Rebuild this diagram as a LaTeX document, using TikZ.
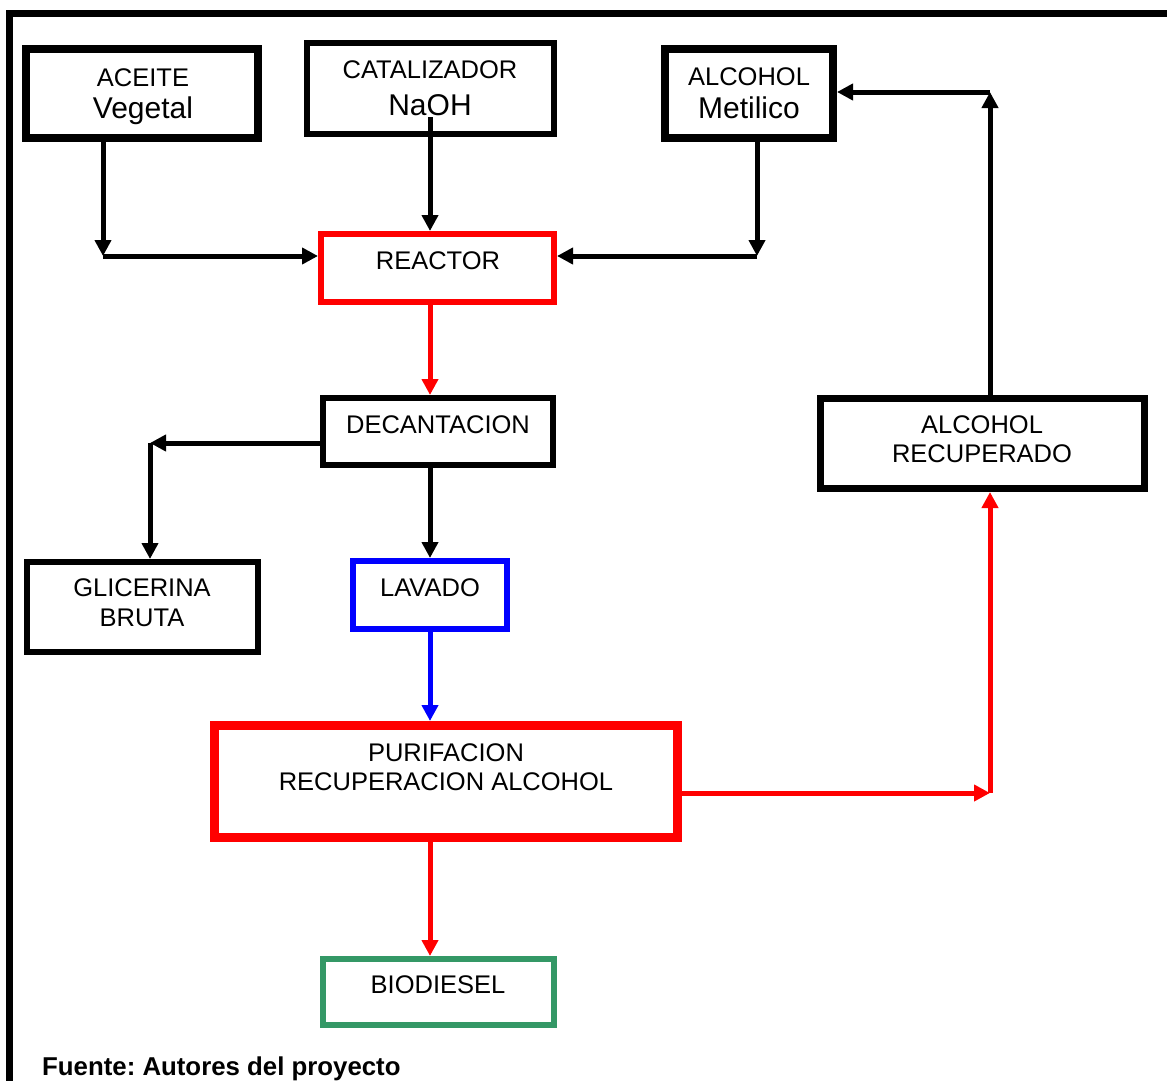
\documentclass[tikz,border=0pt]{standalone}
\usepackage{fontspec}
\setmainfont{Liberation Sans}
\usetikzlibrary{arrows.meta,calc}
\definecolor{boxgreen}{RGB}{52,152,102}
\frenchspacing
\begin{document}
\begin{tikzpicture}[x=1pt,y=-1pt,
  box/.style={draw=black,line width=6pt,rectangle,inner sep=0pt,fill=none},
  txt/.style={anchor=base,inner sep=0pt,font=\fontsize{25.5}{30}\selectfont},
  big/.style={anchor=base,inner sep=0pt,font=\fontsize{30}{36}\selectfont},
  conn/.style={line width=5pt,-{Triangle[length=16pt,width=16pt]}},
  seg/.style={line width=5pt}]
\useasboundingbox (0,0) rectangle (1167,1081);
\fill[white] (0,0) rectangle (1167,1081);
% outer frame
\draw[line width=7pt,line join=miter] (9.5,1090) -- (9.5,14) -- (1175,14);

% boxes
\node[box,line width=8pt,minimum width=232pt,minimum height=89pt] (aceite) at (142,93.5) {};
\node[box,minimum width=247pt,minimum height=90pt] (catal) at (430,88.5) {};
\node[box,line width=8pt,minimum width=168pt,minimum height=89pt] (alcmet) at (749,93.5) {};
\node[box,draw=red,minimum width=233pt,minimum height=68pt] (reactor) at (437.5,268) {};
\node[box,minimum width=230pt,minimum height=67pt] (decant) at (438,431.5) {};
\node[box,minimum width=231pt,minimum height=90pt] (glic) at (142.5,607) {};
\node[box,draw=blue,minimum width=154pt,minimum height=68pt] (lavado) at (430,595) {};
\node[box,draw=red,line width=9pt,minimum width=463pt,minimum height=112pt] (purif) at (446,781.5) {};
\node[box,draw=boxgreen,minimum width=231pt,minimum height=66pt] (bio) at (438.5,992) {};
\node[box,line width=7pt,minimum width=324pt,minimum height=90pt] (alcrec) at (982.5,443.5) {};

% texts
\node[txt] (aceite-t1) at (143,86) {ACEITE};
\node[big] (aceite-t2) at (143,118) {Vegetal};
\node[txt] (catal-t1) at (430,78) {CATALIZADOR};
\node[big] (catal-t2) at (430,115) {NaOH};
\node[txt] (alcmet-t1) at (749,85) {ALCOHOL};
\node[big] (alcmet-t2) at (749,118) {Metilico};
\node[txt] (reactor-t) at (438,269) {REACTOR};
\node[txt] (decant-t) at (438,433) {DECANTACION};
\node[txt] (glic-t1) at (142,596) {GLICERINA};
\node[txt] (glic-t2) at (142,626) {BRUTA};
\node[txt] (lavado-t) at (430,596) {LAVADO};
\node[txt] (purif-t1) at (446,761) {PURIFACION};
\node[txt] (purif-t2) at (446,790) {RECUPERACION ALCOHOL};
\node[txt] (bio-t) at (438,993) {BIODIESEL};
\node[txt] (alcrec-t1) at (982,433) {ALCOHOL};
\node[txt] (alcrec-t2) at (982,462) {RECUPERADO};
\node[anchor=base west,inner sep=0pt,font=\fontsize{25.8}{30}\selectfont\bfseries] (fuente) at (42,1075) {Fuente: Autores del proyecto};

% helper coordinates
\coordinate (col) at (430,0);
\coordinate (a1) at (103,256);
\coordinate (m1) at (757,256);
\coordinate (c1) at (430,117);
\coordinate (g1) at (150,443);
\coordinate (r1) at (990,793);
\coordinate (r2) at (990,92);

% connectors
\draw[conn] (aceite.south -| a1) -- (a1);
\draw[conn] (a1) -- (a1 -| reactor.west);
\draw[conn] (c1) -- (c1 |- reactor.north);
\draw[conn] (alcmet.south -| m1) -- (m1);
\draw[conn] (m1) -- (m1 -| reactor.east);
\draw[conn,red] (reactor.south -| col) -- (decant.north -| col);
\draw[conn] (decant.west |- g1) -- (g1);
\draw[conn] (g1) -- (g1 |- glic.north);
\draw[conn] (decant.south -| col) -- (lavado.north -| col);
\draw[conn,blue] (lavado.south -| col) -- (purif.north -| col);
\draw[conn,red] (purif.south -| col) -- (bio.north -| col);
\draw[conn,red] (purif.east |- r1) -- (r1);
\draw[conn,red] (r1) -- (r1 |- alcrec.south);
\draw[conn] (alcrec.north -| r2) -- (r2);
\draw[conn] (r2) -- (r2 -| alcmet.east);
\end{tikzpicture}
\end{document}
